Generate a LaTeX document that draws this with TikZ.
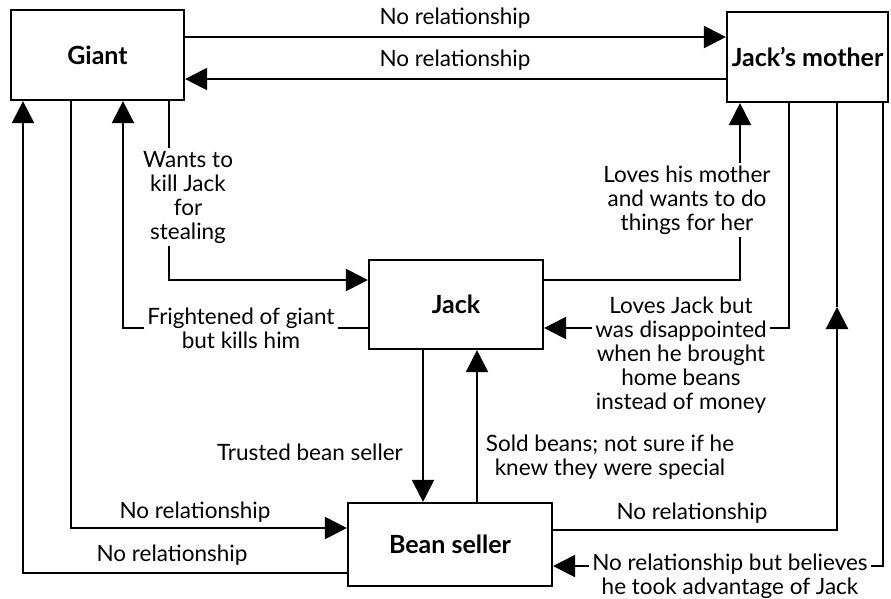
\documentclass[tikz,border=0pt]{standalone}
\usepackage{fontspec}
\setmainfont{Lato}
\usetikzlibrary{arrows.meta}
\begin{document}
\begin{tikzpicture}[x=1pt, y=-1pt, line width=2.2pt,
    every node/.style={font=\fontsize{22.5}{24}\selectfont},
    box/.style={draw, font=\fontsize{25}{30}\selectfont\bfseries, inner sep=0pt},
    lbl/.style={align=center, inner sep=2pt},
    arr/.style={-{Triangle[length=22pt,width=22pt]}}]
    \useasboundingbox (0,0) rectangle (891,598);
    % the four characters
    \node[box, minimum width=173, minimum height=90] (giant) at (97.5,55) {Giant};
    \node[box, minimum width=161, minimum height=90] (mother) at (807.5,57) {Jack's mother};
    \node[box, minimum width=174, minimum height=89] (jack) at (456,304.5) {Jack};
    \node[box, minimum width=204, minimum height=83] (bean) at (450,544.5) {Bean seller};
    % giant and mother
    \draw[arr] (giant.east |- 0,37) -- (mother.west |- 0,37);
    \node (nrgm) at (455,18) {No relationship};
    \draw[arr] (mother.west |- 0,79) -- (giant.east |- 0,79);
    \node (nrmg) at (455,60) {No relationship};
    % giant and jack
    \node[lbl] (kill) at (188,197) {Wants to\\kill Jack\\for\\stealing};
    \draw (169,0 |- giant.south) -- (169,0 |- kill.north);
    \draw[arr] (169,0 |- kill.south) |- (jack.west |- 0,280);
    \node[lbl] (fright) at (241,328) {Frightened of giant\\but kills him};
    \draw (jack.west |- 0,328) -- (fright.east |- 0,328);
    \draw[arr] (fright.west |- 0,328) -| (123,0 |- giant.south);
    % jack and mother
    \node[lbl] (lovesmum) at (687,200) {Loves his mother\\and wants to do\\things for her};
    \draw (jack.east |- 0,280) -| (740,0 |- lovesmum.south);
    \draw[arr] (740,0 |- lovesmum.north) -- (740,0 |- mother.south);
    \node[lbl] (lovesjack) at (681,355) {Loves Jack but\\was disappointed\\when he brought\\home beans\\instead of money};
    \draw (789,0 |- mother.south) |- (lovesjack.east |- 0,328);
    \draw[arr] (lovesjack.west |- 0,328) -- (jack.east |- 0,328);
    % jack and bean seller
    \draw[arr] (423,0 |- jack.south) -- (423,0 |- bean.north);
    \node (trusted) at (310,452) {Trusted bean seller};
    \draw[arr] (477,0 |- bean.north) -- (477,0 |- jack.south);
    \node[lbl] (sold) at (610,457) {Sold beans; not sure if he\\knew they were special};
    % giant and bean seller
    \draw[arr] (71,0 |- giant.south) |- (bean.west |- 0,528);
    \node (nrgb) at (195,512) {No relationship};
    \draw[arr] (bean.west |- 0,573) -| (23,0 |- giant.south);
    \node (nrbg) at (172,555) {No relationship};
    % bean seller and mother
    \coordinate (mid) at (837,307);
    \draw[arr] (bean.east |- 0,530) -| (mid);
    \draw (mid) -- (mid |- mother.south);
    \node (nrbm) at (692,513) {No relationship};
    \node[lbl] (advant) at (730,576) {No relationship but believes\\he took advantage of Jack};
    \draw (883,0 |- mother.south) |- (advant.east |- 0,566);
    \draw[arr] (advant.west |- 0,566) -- (bean.east |- 0,566);
\end{tikzpicture}
\end{document}
